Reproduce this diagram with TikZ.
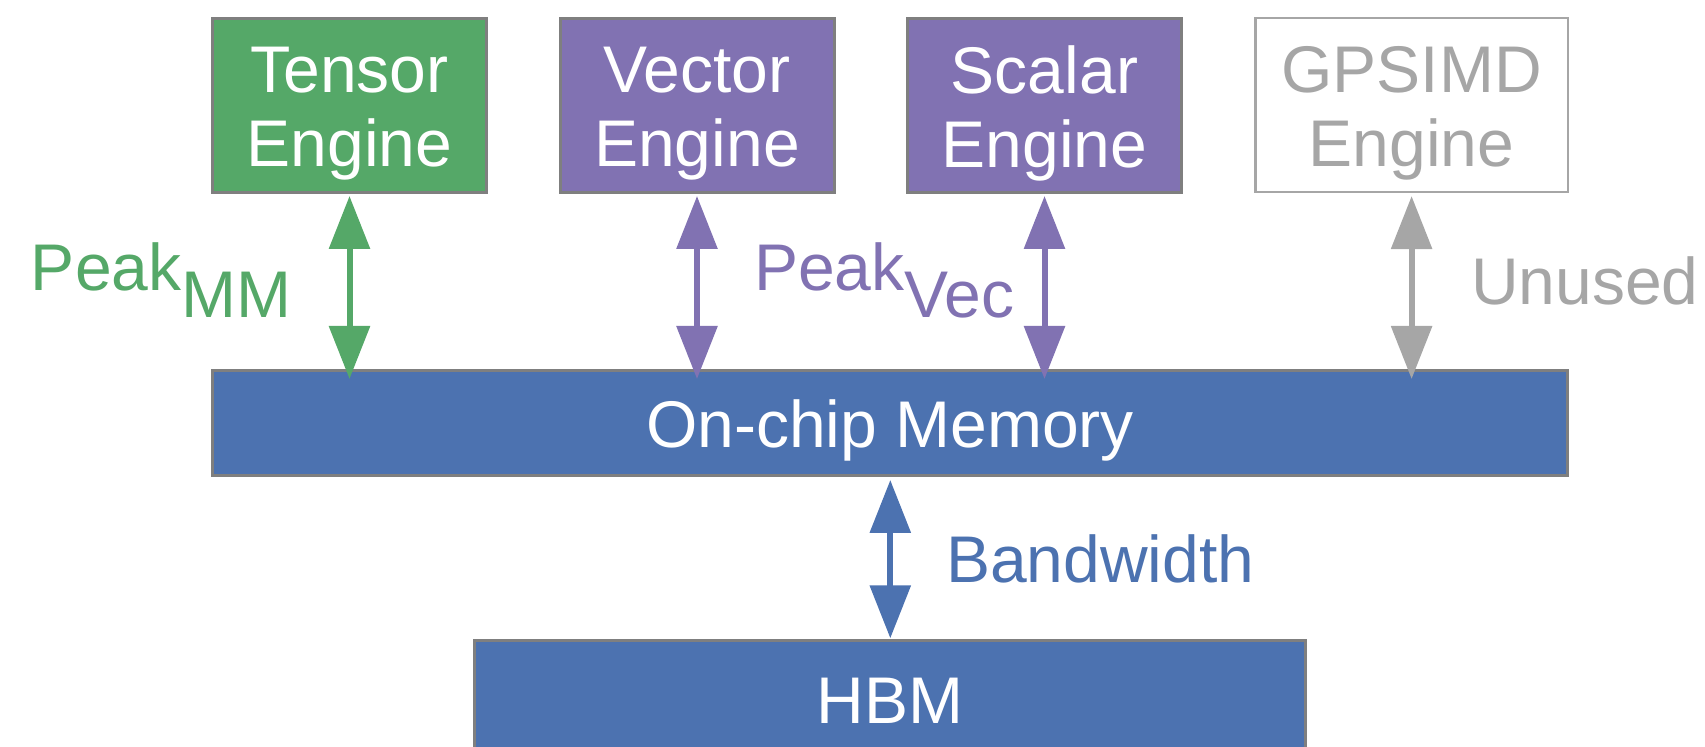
\documentclass[tikz,border=0pt]{standalone}
\usepackage{fontspec}
\setmainfont{Liberation Sans}
\usetikzlibrary{arrows.meta}
\definecolor{tgreen}{HTML}{55A868}
\definecolor{vpurple}{HTML}{8172B2}
\definecolor{mblue}{HTML}{4C72B0}
\definecolor{frame}{HTML}{7F7F7F}
\definecolor{idle}{HTML}{A6A6A6}
\begin{document}
\begin{tikzpicture}[x=0.5pt,y=-0.5pt,
  every node/.style={inner sep=0pt, outer sep=0pt},
  txt/.style={font=\fontsize{33pt}{37pt}\selectfont},
  unit/.style={draw=frame, line width=1.5pt, minimum width=137pt, minimum height=87pt},
  store/.style={draw=frame, line width=1.5pt, fill=mblue},
  intext/.style={txt, text=white, align=center},
  link/.style={line width=3pt,
    {Triangle[length=26.5pt,width=20pt]}-{Triangle[length=26.5pt,width=20pt]}},
  tag/.style={txt, anchor=base west},
]
\useasboundingbox (0,0) rectangle (1705,747);
\clip (0,0) rectangle (1705,747);

% compute engines
\node[unit, fill=tgreen,
  label={[intext, yshift=-3.85pt]center:{Tensor\\Engine}}] (tensor) at (349.5,105.5) {};
\node[unit, fill=vpurple,
  label={[intext, yshift=-3.85pt]center:{Vector\\Engine}}] (vector) at (697,105.5) {};
\node[unit, fill=vpurple,
  label={[intext, yshift=-3.85pt]center:{Scalar\\Engine}}] (scalar) at (1044.5,105.5) {};
\node[draw=idle, line width=1.2pt, fill=white, minimum width=156.3pt, minimum height=87pt,
  label={[intext, text=idle, yshift=-3.85pt]center:{GPSIMD\\Engine}}] (gpsimd) at (1411.6,105.2) {};

% memories
\node[store, minimum width=677.5pt, minimum height=52.5pt,
  label={[intext, yshift=-3.8pt]center:On-chip Memory}] (mem) at (890,423) {};
\node[store, minimum width=415.5pt, minimum height=100pt,
  label={[intext, yshift=19.9pt]center:HBM}] (hbm) at (890.3,740.5) {};

% data paths
\draw[link, tgreen, shorten <=1.75pt, shorten >=-4.25pt]
  (tensor.south) -- (tensor.south |- mem.north);
\draw[link, vpurple, shorten <=1.75pt, shorten >=-4.25pt]
  (vector.south) -- (vector.south |- mem.north);
\draw[link, vpurple, shorten <=1.75pt, shorten >=-4.25pt]
  (scalar.south) -- (scalar.south |- mem.north);
\draw[link, idle, shorten <=1.95pt, shorten >=-4.25pt]
  (gpsimd.south) -- (gpsimd.south |- mem.north);
\draw[link, mblue, shorten <=2.25pt, shorten >=1.1pt]
  (mem.south -| hbm.north) -- (hbm.north);

% path labels
\node[tag, text=tgreen] (peakmm) at (31,291) {Peak\raisebox{-13.5pt}{MM}};
\node[tag, text=vpurple] (peakvec) at (754,291) {Peak\raisebox{-13.5pt}{Vec}};
\node[tag, text=idle] (unused) at (1471,305) {Unused};
\node[tag, text=mblue] (bw) at (946,582.7) {Bandwidth};
\end{tikzpicture}
\end{document}
